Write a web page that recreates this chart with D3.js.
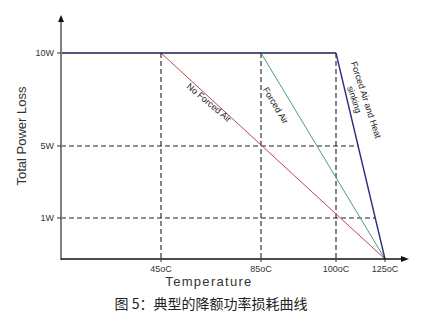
<!DOCTYPE html>
<html lang="en">
<head>
  <meta charset="UTF-8">
  <title>典型的降额功率损耗曲线</title>
  <script src="https://d3js.org/d3.v7.min.js"></script>
  <style>
    body { margin: 0; background: #fff; }
    svg { display: block; }
    .tick-label { font-family: Arial, "Liberation Sans", sans-serif; font-size: 9px; fill: #333; }
    .curve-label { font-family: Arial, "Liberation Sans", sans-serif; font-size: 9px; fill: #222; }
  </style>
</head>
<body>
  <svg width="424" height="334"></svg>
  <script>
    // temperature ticks (schematic, not to scale)
    const tempTicks = [45, 85, 100, 125];
    const tempLabels = ["45oC", "85oC", "100oC", "125oC"];
    // power ticks
    const powerTicks = [10, 5, 1];
    const powerLabels = ["10W", "5W", "1W"];

    // derating curves: [temperature, watts]
    const ratedLine = [[0, 10], [100, 10]];
    const noForcedAir = [[45, 10], [125, 0]];
    const forcedAir = [[85, 10], [125, 0]];
    const heatSink = [[100, 10], [125, 0]];

    const svg = d3.select("svg");

    // the original drawing is not to scale, so the scales are piecewise
    const x = d3.scaleLinear().domain([0, 45, 85, 100, 125, 135]).range([61, 161, 261, 336, 385, 409]);
    const y = d3.scaleLinear().domain([0, 1, 5, 10, 12]).range([259, 218, 146, 53, 15]);

    const line = d3.line().x(d => x(d[0])).y(d => y(d[1]));

    // x at a given power on the heat sink line (pixel space)
    function heatSinkX(w) {
      const [a, b] = heatSink;
      const t = (y(w) - y(a[1])) / (y(b[1]) - y(a[1]));
      return x(a[0]) + t * (x(b[0]) - x(a[0]));
    }

    // dashed guides
    const dash = "5,3";
    [45, 85, 100].forEach(t => {
      svg.append("line")
        .attr("x1", x(t)).attr("x2", x(t))
        .attr("y1", y(10)).attr("y2", y(0))
        .attr("stroke", "#222").attr("stroke-width", 1.1)
        .attr("stroke-dasharray", dash);
    });
    [5, 1].forEach(w => {
      svg.append("line")
        .attr("x1", x(0)).attr("x2", heatSinkX(w))
        .attr("y1", y(w)).attr("y2", y(w))
        .attr("stroke", "#222").attr("stroke-width", 1.1)
        .attr("stroke-dasharray", dash);
    });

    // curves
    svg.append("path").datum(noForcedAir).attr("d", line)
      .attr("fill", "none").attr("stroke", "#b84a4a").attr("stroke-width", 1);
    svg.append("path").datum(forcedAir).attr("d", line)
      .attr("fill", "none").attr("stroke", "#4f9a80").attr("stroke-width", 1);
    svg.append("path").datum(heatSink).attr("d", line)
      .attr("fill", "none").attr("stroke", "#2b2d80").attr("stroke-width", 1.4);
    svg.append("path").datum(ratedLine).attr("d", line)
      .attr("fill", "none").attr("stroke", "#1c1c50").attr("stroke-width", 1.3);

    // axes
    svg.append("line")
      .attr("x1", x(0)).attr("x2", x(0))
      .attr("y1", y(0) + 1).attr("y2", y(12) + 6)
      .attr("stroke", "#808080").attr("stroke-width", 2);
    svg.append("path")
      .attr("d", `M${x(0) - 3},${y(12) + 7}L${x(0)},${y(12)}L${x(0) + 3},${y(12) + 7}Z`)
      .attr("fill", "#111");

    svg.append("line")
      .attr("x1", x(0)).attr("x2", x(135) - 6)
      .attr("y1", y(0)).attr("y2", y(0))
      .attr("stroke", "#111").attr("stroke-width", 1.5);
    svg.append("path")
      .attr("d", `M${x(135) - 8},${y(0) - 3}L${x(135)},${y(0)}L${x(135) - 8},${y(0) + 3}Z`)
      .attr("fill", "#111");

    // y ticks
    powerTicks.forEach((w, i) => {
      svg.append("line")
        .attr("x1", x(0) - 4).attr("x2", x(0))
        .attr("y1", y(w)).attr("y2", y(w))
        .attr("stroke", "#333");
      svg.append("text").attr("class", "tick-label")
        .attr("x", x(0) - 7).attr("y", y(w) + 3)
        .attr("text-anchor", "end")
        .text(powerLabels[i]);
    });

    // x ticks
    tempTicks.forEach((t, i) => {
      svg.append("line")
        .attr("x1", x(t)).attr("x2", x(t))
        .attr("y1", y(0)).attr("y2", y(0) + 3)
        .attr("stroke", "#333");
      svg.append("text").attr("class", "tick-label")
        .attr("x", x(t)).attr("y", y(0) + 13)
        .attr("text-anchor", "middle")
        .text(tempLabels[i]);
    });

    // axis titles
    svg.append("text")
      .attr("transform", "translate(26,136) rotate(-90)")
      .attr("text-anchor", "middle")
      .style("font-family", "Arial, 'Liberation Sans', sans-serif")
      .style("font-size", "13px")
      .attr("fill", "#333")
      .text("Total Power Loss");

    svg.append("text")
      .attr("x", 209).attr("y", 286)
      .attr("text-anchor", "middle")
      .style("font-family", "Arial, 'Liberation Sans', sans-serif")
      .style("font-size", "13px")
      .style("letter-spacing", "1.3px")
      .attr("fill", "#333")
      .text("Temperature");

    // curve labels
    svg.append("text").attr("class", "curve-label")
      .attr("transform", "translate(207,105) rotate(40)")
      .attr("text-anchor", "middle")
      .text("No Forced Air");

    svg.append("text").attr("class", "curve-label")
      .attr("transform", "translate(273,107) rotate(59)")
      .attr("text-anchor", "middle")
      .text("Forced Air");

    const hs = svg.append("g").attr("transform", "translate(366,100) rotate(72)");
    hs.append("text").attr("class", "curve-label")
      .attr("text-anchor", "middle").attr("y", 3)
      .text("Forced Air and Heat");
    hs.append("text").attr("class", "curve-label")
      .attr("text-anchor", "middle").attr("x", -4).attr("y", 14)
      .text("sinking");

    // caption
    svg.append("text")
      .attr("x", 211).attr("y", 309)
      .attr("text-anchor", "middle")
      .style("font-family", "'Noto Sans CJK SC', sans-serif")
      .style("font-size", "14px")
      .attr("fill", "#222")
      .text("图 5：典型的降额功率损耗曲线");
  </script>
</body>
</html>
